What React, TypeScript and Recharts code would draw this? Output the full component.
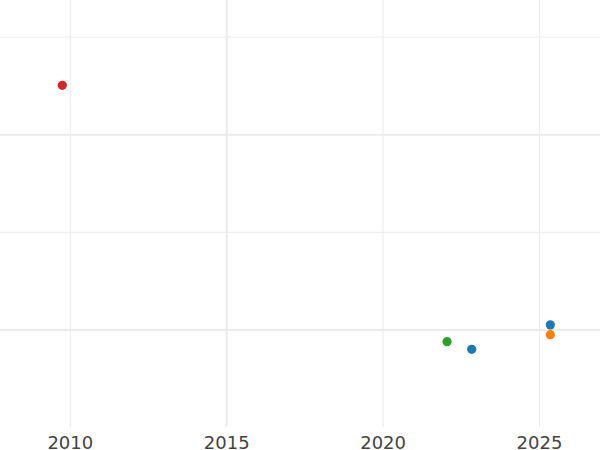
import React from "react";
import { ScatterChart, Scatter, XAxis, YAxis, ReferenceLine, Cell } from "recharts";

const years = [2009.745, 2022.044, 2022.833, 2025.346, 2025.346];
const values = [2.253, 0.94, 0.901, 1.026, 0.976];
const pointColors = ["#d62728", "#2ca02c", "#1f77b4", "#1f77b4", "#ff7f0e"];
const xTicks = [2010, 2015, 2020, 2025];
const xGridWidths = [1, 2, 1, 1];
const yGrid = [1, 1.5, 2, 2.5];
const yGridWidths = [2, 1, 2, 1];

const data = years.map((x, i) => ({ x, y: values[i] }));

const Tick = (props: any) => {
  const { x, y, payload } = props;
  return (
    <text x={x} y={y + 13.5} textAnchor="middle" fill="#444444" fontSize={18} fontFamily="DejaVu Sans">
      {payload.value}
    </text>
  );
};

const Dot = (props: any) => {
  const { cx, cy, fill } = props;
  return <circle cx={cx} cy={cy} r={4.6} fill={fill} />;
};

export default function App() {
  return (
    <div style={{ position: "absolute", left: 0, top: 0, width: 600, height: 450, background: "#fff" }}>
      <ScatterChart width={600} height={450} margin={{ top: 0, right: 0, bottom: 0, left: 0 }}>
        <XAxis
          type="number"
          dataKey="x"
          domain={[2007.753, 2026.934]}
          ticks={xTicks}
          axisLine={false}
          tickLine={false}
          height={23}
          tick={<Tick />}
          allowDataOverflow
        />
        <YAxis type="number" dataKey="y" domain={[0.503, 2.6897]} hide allowDataOverflow />
        {xTicks.map((t, i) => (
          <ReferenceLine key={"x" + t} x={t} stroke="#ebebeb" strokeWidth={xGridWidths[i]} />
        ))}
        {yGrid.map((t, i) => (
          <ReferenceLine key={"y" + t} y={t} stroke="#ebebeb" strokeWidth={yGridWidths[i]} />
        ))}
        <Scatter data={data} isAnimationActive={false} shape={<Dot />}>
          {data.map((d, i) => (
            <Cell key={i} fill={pointColors[i]} />
          ))}
        </Scatter>
      </ScatterChart>
    </div>
  );
}
